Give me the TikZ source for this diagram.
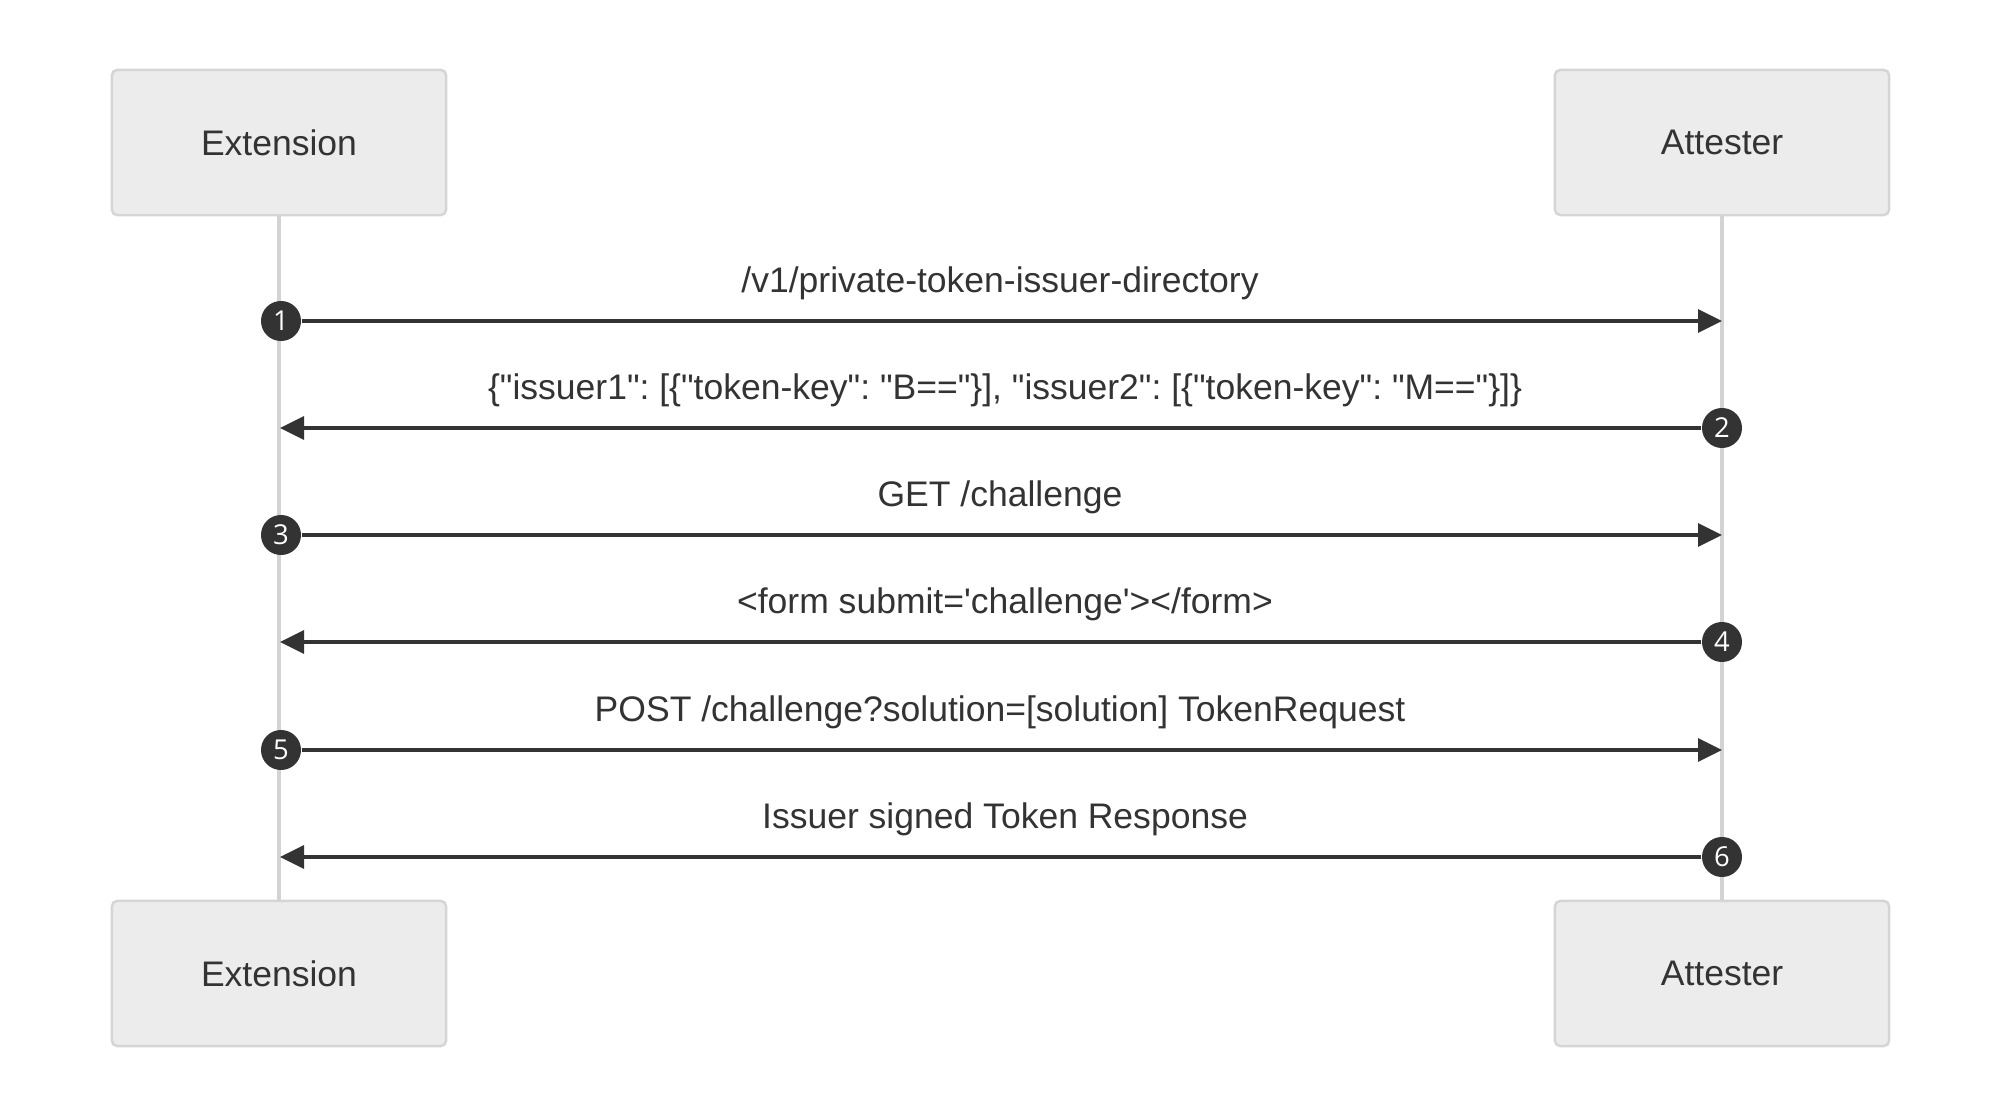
\documentclass[tikz,border=0pt]{standalone}
\usepackage{fontspec}
\setmainfont{Liberation Sans}[Ligatures=TeXOff]
\newfontfamily\numfont{Open Sans}
\usetikzlibrary{arrows.meta}
\frenchspacing

\definecolor{boxfill}{HTML}{ECECEC}
\definecolor{boxline}{HTML}{D5D5D5}
\definecolor{lifegray}{HTML}{D3D3D3}
\definecolor{msgdark}{HTML}{333333}

\tikzset{
    actor/.style={draw=boxline, line width=0.7pt, fill=boxfill, rounded corners=1.5pt,
        minimum width=3.34cm, minimum height=1.45cm, text=msgdark,
        font=\fontsize{10.1}{12}\selectfont},
    lifeline/.style={draw=lifegray, line width=1.1pt},
    msg/.style={draw=msgdark, line width=0.9pt, -{Triangle[length=0.24cm, width=0.23cm]}},
    msglabel/.style={anchor=base, text=msgdark, font=\fontsize{10.1}{12}\selectfont},
    seqnum/.style={circle, fill=msgdark, text=white, minimum size=0.40cm, inner sep=0pt,
        font=\numfont\fontsize{7.8}{8}\selectfont}
}

\begin{document}
\begin{tikzpicture}[x=0.01cm, y=-0.01cm]
        \useasboundingbox[fill=white] (0,0) rectangle (1999,1119);

        % The actors
        \node[actor] (extTop) at (279,142.5) {Extension};
        \node[actor] (attTop) at (1722,142.5) {Attester};
        \node[actor] (extBot) at (279,973.5) {Extension};
        \node[actor] (attBot) at (1722,973.5) {Attester};

        % The lifelines
        \draw[lifeline] (extTop.south) -- (extBot.north);
        \draw[lifeline] (attTop.south) -- (attBot.north);

        % The message ends on the lifelines
        \coordinate (r1) at (1722,321);
        \coordinate (l2) at (280,428);
        \coordinate (r3) at (1722,535);
        \coordinate (l4) at (280,642);
        \coordinate (r5) at (1722,750);
        \coordinate (l6) at (280,857);

        % The messages
        \node[msglabel] (m1) at (1000,293) {/v1/private-token-issuer-directory};
        \node[seqnum] (s1) at (281,321) {1};
        \draw[msg] (s1) -- (r1);

        \node[msglabel] (m2) at (1005,400) {\{"issuer1": [\{"token-key": "B=="\}], "issuer2": [\{"token-key": "M=="\}]\}};
        \node[seqnum] (s2) at (1722,428) {2};
        \draw[msg] (s2) -- (l2);

        \node[msglabel] (m3) at (1000,507) {GET /challenge};
        \node[seqnum] (s3) at (281,535) {3};
        \draw[msg] (s3) -- (r3);

        \node[msglabel] (m4) at (1005,614) {<form submit='challenge'></form>};
        \node[seqnum] (s4) at (1722,642) {4};
        \draw[msg] (s4) -- (l4);

        \node[msglabel] (m5) at (1000,722) {POST /challenge?solution=[solution] TokenRequest};
        \node[seqnum] (s5) at (281,750) {5};
        \draw[msg] (s5) -- (r5);

        \node[msglabel] (m6) at (1005,829) {Issuer signed Token Response};
        \node[seqnum] (s6) at (1722,857) {6};
        \draw[msg] (s6) -- (l6);
    \end{tikzpicture}
\end{document}
